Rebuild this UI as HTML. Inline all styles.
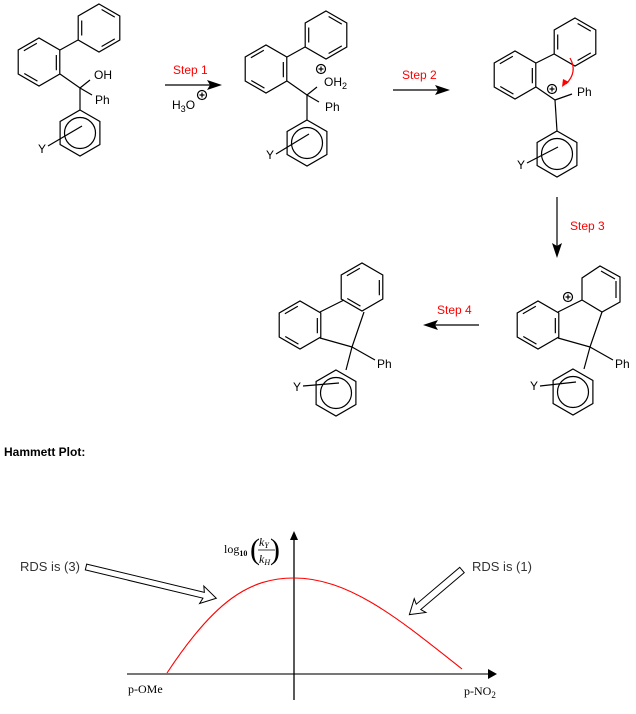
<!DOCTYPE html>
<html><head><meta charset="utf-8"><style>
html,body{margin:0;padding:0;background:#fff;}
svg{display:block;font-family:"Liberation Sans",Arial,sans-serif;}
</style></head><body>
<svg width="636" height="714" viewBox="0 0 636 714" xmlns="http://www.w3.org/2000/svg">
<defs>
<g id="benz" fill="none" stroke="#000" stroke-width="1.2">
<polygon points="0,-24 20.8,-12 20.8,12 0,24 -20.8,12 -20.8,-12"/>
<line x1="2.6" y1="-18.5" x2="15.8" y2="-10.9"/>
<line x1="15.8" y1="10.9" x2="2.6" y2="18.5"/>
<line x1="-17.3" y1="7.5" x2="-17.3" y2="-7.5"/>
</g>
<g id="ar" fill="none" stroke="#000" stroke-width="1.2">
<polygon points="0,-23 19.9,-11.5 19.9,11.5 0,23 -19.9,11.5 -19.9,-11.5"/>
<circle r="15.5"/>
</g>
</defs>
<g fill="none" stroke="#000" stroke-width="1.2">
<!-- Molecule 1 -->
<use href="#benz" x="99" y="28"/>
<use href="#benz" transform="translate(39,62) rotate(60)"/>
<line x1="78" y1="40" x2="60" y2="50"/>
<polyline points="60,74 80,88 90,80"/>
<line x1="80" y1="88" x2="92" y2="95"/>
<line x1="80" y1="88" x2="80" y2="110"/>
<use href="#ar" x="80" y="133"/>
<line x1="48" y1="146" x2="82" y2="126"/>
<!-- Molecule 2 -->
<use href="#benz" x="326" y="35"/>
<use href="#benz" transform="translate(266,69) rotate(60)"/>
<line x1="305" y1="47" x2="287" y2="57"/>
<polyline points="287,81 307,95 317,87"/>
<line x1="307" y1="95" x2="319" y2="102"/>
<line x1="307" y1="95" x2="307" y2="120"/>
<use href="#ar" x="307" y="143"/>
<line x1="276" y1="154" x2="309" y2="134"/>
<!-- Molecule 3 -->
<use href="#benz" x="575" y="42"/>
<use href="#benz" transform="translate(515,75) rotate(60)"/>
<line x1="554" y1="54" x2="536" y2="63"/>
<line x1="536" y1="87" x2="555" y2="100"/>
<line x1="555" y1="100" x2="572" y2="94"/>
<line x1="555" y1="100" x2="557" y2="131"/>
<use href="#ar" x="557" y="154"/>
<line x1="527" y1="163" x2="558" y2="147"/>
<!-- Molecule 4 (right) -->
<use href="#benz" transform="translate(538,325) rotate(60)"/>
<polyline points="558,312 582,300 582,278 600,266 620,277 620,302 602,312 582,300"/>
<line x1="601" y1="271" x2="615" y2="279"/>
<line x1="616" y1="281" x2="616" y2="298"/>
<polyline points="602,312 590,347 558,338"/>
<line x1="590" y1="347" x2="613" y2="360"/>
<line x1="590" y1="347" x2="584" y2="369"/>
<use href="#ar" x="573" y="392"/>
<line x1="540" y1="386" x2="576" y2="382"/>
<!-- Molecule 5 (product) -->
<use href="#benz" transform="translate(300,325) rotate(60)"/>
<use href="#benz" transform="translate(362,287) rotate(60)"/>
<polyline points="320,312 344,300"/>
<polyline points="364,312 352,347 320,338"/>
<line x1="352" y1="347" x2="375" y2="360"/>
<line x1="352" y1="347" x2="346" y2="370"/>
<use href="#ar" x="336" y="393"/>
<line x1="303" y1="386" x2="339" y2="383"/>
<!-- charges -->
<circle cx="321" cy="69" r="4.5"/><line x1="318.5" y1="69" x2="323.5" y2="69"/><line x1="321" y1="66.5" x2="321" y2="71.5"/>
<circle cx="552" cy="89" r="4.5"/><line x1="549.5" y1="89" x2="554.5" y2="89"/><line x1="552" y1="86.5" x2="552" y2="91.5"/>
<circle cx="568" cy="297" r="4.5"/><line x1="565.5" y1="297" x2="570.5" y2="297"/><line x1="568" y1="294.5" x2="568" y2="299.5"/>
<circle cx="202" cy="95" r="4.5"/><line x1="199.5" y1="95" x2="204.5" y2="95"/><line x1="202" y1="92.5" x2="202" y2="97.5"/>
</g>
<!-- red curved arrow -->
<path d="M570,58 Q578,72 566,84" fill="none" stroke="#f00" stroke-width="1.2"/>
<polygon points="562,87 563,79 569,82" fill="#f00"/>
<!-- reaction arrows -->
<g stroke="#000" stroke-width="1.2">
<line x1="165" y1="85" x2="210" y2="85"/>
<line x1="393" y1="90" x2="438" y2="90"/>
<line x1="557" y1="197" x2="557" y2="246"/>
<line x1="479" y1="325" x2="434" y2="325"/>
</g>
<g fill="#000">
<polygon points="222,85 207,80 210,85 207,90"/>
<polygon points="450,90 435,85 438,90 435,95"/>
<polygon points="557,258 552,243 557,246 562,243"/>
<polygon points="423,325 438,320 435,325 438,330"/>
</g>
<g font-size="12" fill="#000">
<text x="94" y="79">OH</text>
<text x="95" y="104">Ph</text>
<text x="38" y="153">Y</text>
<text x="324" y="86">OH<tspan font-size="9" dy="3">2</tspan></text>
<text x="325" y="111">Ph</text>
<text x="266" y="159">Y</text>
<text x="172" y="109">H<tspan font-size="9" dy="3">3</tspan><tspan dy="-3">O</tspan></text>
<text x="577" y="96">Ph</text>
<text x="517" y="169">Y</text>
<text x="615" y="368">Ph</text>
<text x="530" y="390">Y</text>
<text x="377" y="368">Ph</text>
<text x="293" y="391">Y</text>
</g>
<g font-size="12" fill="#f00">
<text x="173" y="74">Step 1</text>
<text x="402" y="79">Step 2</text>
<text x="570" y="230">Step 3</text>
<text x="437" y="314">Step 4</text>
</g>
<text x="4" y="456" font-size="12" font-weight="bold">Hammett Plot:</text>
<!-- plot -->
<line x1="127" y1="674" x2="490" y2="674" stroke="#777" stroke-width="2"/>
<polygon points="497,674 488,669 488,679" fill="#000"/>
<line x1="294" y1="538" x2="294" y2="700" stroke="#000" stroke-width="1.3"/>
<polygon points="294,531 290,540 298,540" fill="#000"/>
<path d="M167,673 C215,600 250,578 294,578 C350,578 400,620 462,669" fill="none" stroke="#f00" stroke-width="1.1"/>
<text x="128" y="693" font-family="Liberation Serif" font-size="12">p-OMe</text>
<text x="464" y="695" font-family="Liberation Serif" font-size="12">p-NO<tspan font-size="9" dy="3">2</tspan></text>
<g font-family="Liberation Serif" fill="#000">
<text x="224" y="553" font-size="12">log<tspan font-size="8" font-weight="bold" dy="3">10</tspan></text>
<text x="250" y="559" font-size="30" transform="scale(1,1)">(</text>
<text x="270" y="559" font-size="30">)</text>
<text x="259" y="546" font-size="12" font-style="italic">k<tspan font-size="8" dy="2">Y</tspan></text>
<line x1="258" y1="550" x2="275" y2="550" stroke="#000" stroke-width="0.8"/>
<text x="259" y="563" font-size="12" font-style="italic">k<tspan font-size="8" dy="2">H</tspan></text>
</g>
<text x="20" y="571" font-size="13" fill="#333">RDS is (3)</text>
<text x="472" y="571" font-size="13" fill="#333">RDS is (1)</text>
<polygon transform="translate(86,567) rotate(13.5)" points="0,-3 121,-3 119,-9 134,0 119,9 121,3 0,3" fill="none" stroke="#000" stroke-width="1"/>
<polygon transform="translate(462,570) rotate(139.7)" points="0,-3.5 57,-3.5 55,-9 69,0 55,9 57,3.5 0,3.5" fill="none" stroke="#000" stroke-width="1"/>
</svg>
</body></html>
